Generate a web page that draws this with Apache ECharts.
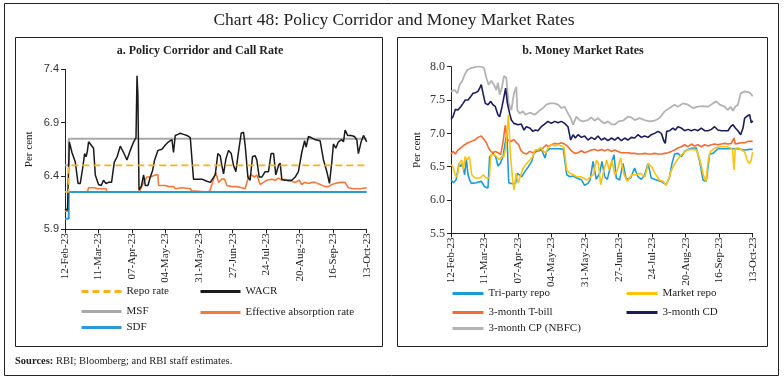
<!DOCTYPE html>
<html>
<head>
<meta charset="utf-8">
<script src="https://cdn.jsdelivr.net/npm/echarts@6/dist/echarts.min.js"></script>
<style>
html,body{margin:0;padding:0;background:#fff;}
#c{width:784px;height:381px;}
</style>
</head>
<body>
<div id="c"></div>
<script>
// ---- tick labels (x axis: every 27 days from 12-Feb-23) ----
const xTickLabels = ['12-Feb-23','11-Mar-23','07-Apr-23','04-May-23','31-May-23','27-Jun-23','24-Jul-23','20-Aug-23','16-Sep-23','13-Oct-23'];

// ---- Panel a: policy corridor (day offset from 12-Feb-23, per cent) ----
const policyDays = [0, 3, 243];
const repoRate = [6.25, 6.50, 6.50];
const msfRate  = [6.50, 6.75, 6.75];
const sdfRate  = [6.00, 6.25, 6.25];

const wacr = [[0,6.09],[2,6.08],[3.5,6.72],[5.6,6.62],[8.3,6.53],[10.5,6.33],[12.3,6.33],[14.2,6.47],[15.8,6.61],[17,6.58],[18,6.63],[19,6.72],[23,6.66],[24.4,6.41],[27,6.32],[29.2,6.31],[31,6.36],[33,6.33],[35.1,6.34],[37.5,6.34],[39.7,6.53],[42,6.58],[44.5,6.68],[47.2,6.62],[49.9,6.55],[52.6,6.64],[55.3,6.72],[57.2,6.76],[58,7.34],[58.7,7.16],[59.6,6.27],[61.4,6.30],[63.3,6.41],[64.7,6.31],[66.8,6.31],[68.7,6.39],[70.5,6.45],[72.2,6.55],[74.9,6.64],[78.1,6.65],[80.8,6.69],[83.4,6.72],[86.1,6.74],[87.4,6.62],[88.8,6.78],[91,6.79],[92.8,6.80],[95.5,6.79],[98.2,6.78],[100.9,6.76],[103.5,6.37],[106.2,6.37],[110.3,6.37],[114.3,6.35],[117,6.34],[121,6.41],[123.1,6.61],[125,6.59],[126.3,6.50],[127.7,6.42],[129.6,6.56],[131.7,6.64],[133.9,6.61],[135.7,6.50],[137.6,6.44],[139.8,6.63],[141.9,6.80],[143.8,6.81],[145.1,6.69],[147.3,6.39],[149.1,6.36],[151,6.58],[153.2,6.59],[154.5,6.55],[156.4,6.39],[158.5,6.39],[161.2,6.44],[163.9,6.44],[166,6.61],[168,6.61],[169.8,6.41],[172,6.50],[173.3,6.52],[174.6,6.37],[176.8,6.36],[180,6.36],[182.7,6.36],[185.4,6.39],[188,6.44],[190.7,6.62],[193,6.73],[194.2,6.67],[196.1,6.77],[198.2,6.76],[201.5,6.74],[205.5,6.73],[208.2,6.55],[210.9,6.44],[213,6.33],[214.9,6.53],[216.2,6.70],[218.1,6.66],[220.2,6.72],[222.9,6.74],[224.3,6.72],[225.6,6.83],[227.7,6.78],[230.4,6.78],[233.1,6.77],[235,6.74],[236.3,6.61],[238.5,6.72],[240.4,6.78],[243,6.72]];

const effAbsorption = [[0,6.07],[2,6.07],[3,6.25],[18,6.25],[19,6.29],[24,6.29],[26,6.28],[33,6.28],[34,6.25],[59,6.25],[60.6,6.27],[63.3,6.34],[66,6.39],[68.7,6.39],[72.7,6.41],[74.8,6.41],[75.4,6.31],[80.8,6.31],[83.4,6.30],[87.5,6.30],[88.8,6.28],[94.2,6.29],[100.9,6.28],[102.2,6.26],[103,6.25],[115.6,6.25],[117,6.27],[119.6,6.37],[121.5,6.43],[123.7,6.34],[126.3,6.37],[128.5,6.37],[130.4,6.31],[134.4,6.30],[138.4,6.30],[142.4,6.29],[145.1,6.28],[147.8,6.39],[150,6.41],[152.6,6.39],[154.5,6.41],[157.2,6.32],[159.9,6.34],[162.6,6.36],[166.6,6.37],[169.3,6.36],[172,6.38],[174.6,6.36],[177.3,6.37],[180,6.35],[182.7,6.35],[185.4,6.34],[188.6,6.36],[190.7,6.32],[192.9,6.34],[196.1,6.33],[198.8,6.34],[201.5,6.34],[205.5,6.32],[209.5,6.30],[212.2,6.30],[214.9,6.32],[217.6,6.33],[221.6,6.34],[225.6,6.34],[228.3,6.29],[232.3,6.28],[237.7,6.28],[243,6.29]];

// ---- Panel b: money market rates ----
const triPartyRepo = [[0,6.30],[2,6.26],[4,6.30],[6.5,6.55],[7.8,6.50],[9.2,6.55],[11,6.38],[12.4,6.62],[13.7,6.38],[15,6.30],[16.4,6.25],[20.4,6.26],[24.4,6.28],[27.1,6.20],[29.8,6.18],[31.1,6.65],[33.8,6.70],[36,6.65],[37.8,6.51],[39.7,6.55],[41.9,6.65],[44,6.90],[45,7.00],[46.5,6.26],[50,6.24],[52,6.25],[53.4,6.40],[56.9,6.35],[59.6,6.43],[62.3,6.50],[65,6.58],[66.9,6.70],[69,6.75],[71.2,6.76],[73,6.75],[75.7,6.63],[77,6.73],[79.7,6.77],[83.8,6.77],[87.8,6.77],[90.5,6.76],[93.2,6.38],[95.8,6.35],[98.5,6.36],[101.2,6.33],[105.2,6.30],[107.6,6.22],[110.3,6.25],[112,6.30],[114.4,6.58],[117,6.31],[119.7,6.40],[121.6,6.58],[123.8,6.35],[125.9,6.31],[129.1,6.55],[131.3,6.68],[133.1,6.33],[135.8,6.30],[138.5,6.55],[141.2,6.31],[144.7,6.33],[147.9,6.48],[150.6,6.35],[153.3,6.31],[156,6.38],[158.7,6.55],[161.3,6.33],[165.4,6.30],[169.4,6.28],[173.4,6.23],[176.1,6.35],[178,6.55],[180.1,6.69],[182.8,6.70],[185.5,6.65],[188.2,6.73],[190.9,6.76],[194.9,6.78],[197.6,6.78],[200.3,6.58],[203,6.30],[205.6,6.28],[208.3,6.69],[211,6.70],[215,6.77],[220,6.77],[226,6.77],[231,6.77],[236.5,6.75],[240.5,6.76],[243,6.76]];

const marketRepo = [[0,6.53],[1.6,6.50],[3.2,6.38],[5,6.35],[6.7,6.55],[8.6,6.60],[9.9,6.45],[11.3,6.65],[13,6.60],[14.8,6.65],[16.7,6.38],[19.3,6.33],[23.4,6.33],[26,6.38],[28.5,6.33],[30.9,6.33],[32.2,6.68],[34.6,6.68],[36.8,6.65],[39,6.60],[40.8,6.65],[42.5,6.65],[44.3,6.80],[46.2,7.28],[48,6.65],[49.7,6.30],[50.8,6.15],[52.4,6.40],[54.2,6.25],[56.1,6.38],[58.3,6.48],[61,6.55],[63.6,6.60],[65.8,6.65],[67.7,6.75],[70.3,6.75],[72.2,6.79],[74.5,6.73],[76.5,6.71],[78.4,6.79],[81.1,6.83],[83.8,6.81],[86.5,6.83],[89.1,6.81],[91,6.79],[93.2,6.45],[95.8,6.40],[98.5,6.38],[101.2,6.35],[104,6.35],[106.6,6.33],[109.3,6.30],[112,6.34],[114.6,6.38],[117.3,6.60],[118.7,6.55],[120.5,6.23],[122.5,6.40],[125.4,6.60],[127.4,6.45],[129.6,6.60],[131.8,6.38],[134,6.45],[136.7,6.63],[139.4,6.38],[142.1,6.28],[145.5,6.38],[148.5,6.38],[152.3,6.40],[156.3,6.35],[158.9,6.55],[161.5,6.50],[164.3,6.40],[167.8,6.30],[171,6.28],[173.1,6.22],[175.7,6.33],[177.6,6.45],[180.4,6.55],[183.9,6.65],[187.1,6.70],[190.3,6.75],[194,6.76],[197.9,6.75],[200.5,6.60],[203.2,6.38],[205.3,6.28],[207.2,6.60],[209,6.73],[212.5,6.78],[217,6.80],[222,6.80],[225.3,6.78],[226.8,6.75],[227.9,6.45],[229,6.78],[232,6.78],[236.5,6.72],[238.5,6.60],[240,6.55],[241.5,6.58],[243,6.72]];

const tBill3m = [[0,6.69],[1.6,6.73],[3.5,6.69],[5.6,6.75],[8.3,6.79],[11,6.83],[13.7,6.86],[16.4,6.88],[19,6.90],[21.7,6.94],[24.4,6.96],[26.6,6.91],[28.5,6.86],[30.3,6.78],[32,6.73],[33.8,6.71],[35.7,6.73],[37.8,6.71],[40,6.68],[41.6,6.83],[43.7,7.12],[45.4,6.90],[48.6,6.88],[50.7,6.91],[52.6,6.86],[54.5,6.83],[56.1,6.75],[58,6.71],[60.7,6.69],[63.4,6.73],[66,6.71],[68.7,6.73],[71.4,6.74],[74.1,6.78],[76.8,6.83],[78.1,6.80],[80.8,6.83],[83.5,6.85],[86.2,6.84],[88.9,6.86],[91.5,6.84],[94.2,6.80],[96.9,6.74],[99.6,6.70],[102.3,6.71],[105,6.74],[107.6,6.71],[110.3,6.73],[113,6.75],[115.7,6.76],[118.4,6.74],[121.1,6.76],[123.8,6.74],[126.4,6.76],[129.1,6.73],[131.8,6.75],[134.5,6.73],[137.2,6.71],[139.9,6.71],[142.5,6.71],[145.2,6.70],[147.9,6.70],[150.6,6.69],[153.3,6.69],[156,6.70],[158.7,6.69],[161.3,6.69],[164,6.70],[166.7,6.69],[169.4,6.69],[172.1,6.70],[174.8,6.71],[177.5,6.73],[180.1,6.75],[182.8,6.78],[185.5,6.80],[188.2,6.83],[190.9,6.80],[193.6,6.84],[196.2,6.81],[198.9,6.83],[201.6,6.80],[204.3,6.83],[207,6.81],[209.7,6.83],[212.3,6.84],[215,6.83],[217.7,6.84],[220.4,6.85],[223.1,6.84],[225.8,6.85],[227.9,6.93],[229,6.84],[231.1,6.85],[233.8,6.86],[236.5,6.86],[239.2,6.88],[243,6.88]];

const cd3m = [[0,7.21],[1.6,7.25],[3.5,7.36],[5.6,7.35],[7.8,7.40],[9.7,7.45],[11.5,7.50],[13.7,7.50],[15.8,7.55],[17.7,7.60],[19.6,7.61],[21.7,7.63],[23.1,7.68],[24.4,7.73],[25.8,7.60],[27.6,7.45],[29.8,7.43],[32,7.48],[33.8,7.43],[35.7,7.40],[37.8,7.28],[39.2,7.25],[41.1,7.40],[42.7,7.55],[44,7.68],[45.4,7.45],[47.2,7.30],[48.6,7.20],[50.7,7.15],[54,7.13],[56.6,7.14],[58.8,7.05],[60.7,7.10],[63.4,7.08],[66,7.03],[67.9,7.05],[70,7.04],[72.7,7.10],[75.4,7.14],[78.1,7.18],[80.8,7.15],[83.5,7.18],[86.2,7.16],[88.9,7.18],[91.5,7.15],[94.2,7.10],[96.4,6.90],[98.3,6.98],[100.1,6.93],[102.3,6.98],[105,6.94],[107.6,6.96],[110.3,6.90],[113,6.94],[115.7,6.91],[118.4,6.96],[121.1,6.90],[123.8,6.93],[126.4,6.89],[129.1,6.93],[131.8,6.90],[134.5,6.94],[137.2,6.89],[139.9,6.93],[142.5,6.90],[145.2,6.94],[147.9,6.93],[150.6,6.98],[153.3,6.94],[156,6.96],[158.7,6.94],[161.3,6.98],[164,7.00],[166.7,7.03],[169.4,7.00],[171.6,6.88],[172.6,6.85],[173.7,7.03],[176.1,7.04],[178.8,7.08],[180.7,7.05],[182.8,7.10],[185.5,7.08],[188.2,7.04],[190.9,7.06],[193.6,7.04],[196.2,7.06],[198.9,7.04],[201.6,7.08],[204.3,7.04],[207,7.04],[209.7,7.06],[212.3,7.10],[215,7.05],[217.7,7.04],[220.4,7.04],[223.1,7.04],[225.2,7.10],[227.1,7.13],[229,7.08],[231.1,7.04],[233.3,6.98],[235.2,7.08],[236.5,7.23],[238.6,7.26],[240.5,7.28],[241.9,7.16],[243,7.19]];

const cp3mNBFC = [[0,7.63],[3,7.65],[5.1,7.60],[7,7.73],[8.9,7.78],[11,7.88],[13.1,7.95],[16.4,7.98],[20.4,8.00],[24.4,8.00],[26.6,7.98],[28.5,7.83],[30.3,7.73],[32.5,7.79],[34.6,7.73],[36.5,7.65],[37.8,7.76],[39.2,7.58],[41.1,7.70],[42.7,7.86],[44.6,7.83],[46.4,7.45],[48.6,7.35],[50.7,7.60],[52.6,7.70],[53.4,7.35],[55.3,7.30],[58,7.33],[59.9,7.28],[63.4,7.31],[67.4,7.28],[70.6,7.33],[74.1,7.38],[76.8,7.43],[79.5,7.45],[83.5,7.45],[86.2,7.43],[88.9,7.38],[91.5,7.40],[94.2,7.30],[96.4,7.23],[98.3,7.13],[101,7.25],[103.6,7.20],[106.3,7.18],[110.3,7.20],[113,7.24],[115.7,7.19],[118.4,7.23],[121.1,7.18],[123.8,7.15],[126.4,7.18],[129.1,7.14],[131.8,7.13],[135,7.18],[138.5,7.19],[142.5,7.25],[145.2,7.24],[147.9,7.20],[151.9,7.23],[156,7.20],[160,7.18],[164,7.19],[168,7.23],[172.1,7.33],[176.1,7.38],[180.1,7.43],[182.8,7.40],[186.8,7.45],[190.9,7.43],[194.9,7.38],[198.9,7.40],[203,7.41],[207,7.40],[211,7.45],[213.7,7.48],[216.4,7.43],[220.4,7.40],[223.1,7.35],[225.2,7.40],[227.1,7.34],[229,7.40],[231.1,7.43],[233.3,7.60],[236.5,7.63],[240.5,7.61],[243,7.56]];

// ---------------------------------------------------------------
const SERIF = '"Liberation Serif","DejaVu Serif",serif';
const SANS = '"Liberation Sans","DejaVu Sans",sans-serif';
const pairs = (xs, ys) => xs.map((x, i) => [x, ys[i]]);
const fmtX = v => xTickLabels[Math.round(v / 27)] || '';

const chart = echarts.init(document.getElementById('c'), null, {renderer: 'canvas'});

function xAxisCfg(g) {
  return {
    type: 'value', gridIndex: g, min: 0, max: 243, interval: 27,
    axisLine: {lineStyle: {color: '#222', width: 1}},
    axisTick: {show: true, length: 4, lineStyle: {color: '#222'}},
    axisLabel: {rotate: 90, margin: 4, fontFamily: SERIF, fontSize: 11, color: '#222', formatter: fmtX},
    splitLine: {show: false}
  };
}
function legendCfg(name, left, top, w) {
  return {
    data: [name], left: left, top: top, itemWidth: w, itemHeight: 12, padding: 0,
    textStyle: {fontFamily: SERIF, fontSize: 11, color: '#222'},
    lineStyle: {width: 3},
    itemStyle: {opacity: 0, borderWidth: 0},
    selectedMode: false
  };
}
function line(name, data, color, width, g, extra) {
  return Object.assign({
    name: name, type: 'line', xAxisIndex: g, yAxisIndex: g, data: data,
    symbol: 'none', showSymbol: false,
    lineStyle: {color: color, width: width}, itemStyle: {color: color}
  }, extra || {});
}

const option = {
  animation: false,
  backgroundColor: '#fff',
  grid: [
    {left: 65, top: 69.3, width: 301.7, height: 160},
    {left: 451, top: 66.7, width: 301.7, height: 166.7}
  ],
  xAxis: [xAxisCfg(0), xAxisCfg(1)],
  yAxis: [
    {
      type: 'value', gridIndex: 0, min: 5.9, max: 7.4, interval: 0.5,
      axisLine: {show: true, lineStyle: {color: '#222'}},
      axisTick: {show: true, length: 4, lineStyle: {color: '#222'}},
      axisLabel: {fontFamily: SANS, fontSize: 11, color: '#333', margin: 6, formatter: v => v.toFixed(1)},
      splitLine: {show: false},
      name: 'Per cent', nameLocation: 'middle', nameGap: 30,
      nameTextStyle: {fontFamily: SERIF, fontSize: 11, color: '#222'}
    },
    {
      type: 'value', gridIndex: 1, min: 5.5, max: 8.0, interval: 0.5,
      axisLine: {show: true, lineStyle: {color: '#222'}},
      axisTick: {show: true, length: 4, lineStyle: {color: '#222'}},
      axisLabel: {fontFamily: SERIF, fontSize: 12, color: '#333', margin: 6, formatter: v => v.toFixed(1)},
      splitLine: {show: false},
      name: 'Per cent', nameLocation: 'middle', nameGap: 28,
      nameTextStyle: {fontFamily: SERIF, fontSize: 11, color: '#222'}
    }
  ],
  legend: [
    legendCfg('Repo rate', 80, 286, 40),
    legendCfg('WACR', 199, 286, 40),
    legendCfg('MSF', 80, 306, 40),
    legendCfg('Effective absorption rate', 199, 307, 40),
    legendCfg('SDF', 80, 322, 40),
    legendCfg('Tri-party repo', 451, 288, 31),
    legendCfg('Market repo', 625, 288, 31),
    legendCfg('3-month T-bill', 451, 307, 31),
    legendCfg('3-month CD', 625, 307, 31),
    legendCfg('3-month CP (NBFC)', 451, 323, 31)
  ],
  series: [
    line('MSF', pairs(policyDays, msfRate), '#A9A9A9', 2, 0, {step: 'end'}),
    line('Effective absorption rate', effAbsorption, '#F47A3C', 1.6, 0),
    line('SDF', pairs(policyDays, sdfRate), '#2A9AD5', 2, 0, {step: 'end'}),
    line('WACR', wacr, '#1A1A1A', 1.5, 0),
    line('Repo rate', pairs(policyDays, repoRate), '#F4B223', 1.8, 0, {step: 'end', lineStyle: {color: '#F4B223', width: 1.8, type: [7, 4]}}),

    line('3-month CP (NBFC)', cp3mNBFC, '#B3B3B3', 1.8, 1),
    line('3-month CD', cd3m, '#1C1C5C', 1.6, 1),
    line('3-month T-bill', tBill3m, '#F26D35', 1.6, 1),
    line('Tri-party repo', triPartyRepo, '#1E9AD6', 1.6, 1),
    line('Market repo', marketRepo, '#FFC20E', 1.6, 1)
  ],
  graphic: [
    {type: 'rect', silent: true, shape: {x: 4.5, y: 3.5, width: 774, height: 372}, style: {fill: 'none', stroke: '#222', lineWidth: 1}},
    {type: 'rect', silent: true, shape: {x: 15.5, y: 37.5, width: 367, height: 309}, style: {fill: 'none', stroke: '#222', lineWidth: 1}},
    {type: 'rect', silent: true, shape: {x: 397.5, y: 37.5, width: 370, height: 309}, style: {fill: 'none', stroke: '#222', lineWidth: 1}},
    {type: 'text', silent: true, x: 394, y: 20, style: {text: 'Chart 48: Policy Corridor and Money Market Rates', font: '17.5px ' + SERIF, fill: '#222', textAlign: 'center', textVerticalAlign: 'middle', align: 'center', verticalAlign: 'middle'}},
    {type: 'text', silent: true, x: 200, y: 51, style: {text: 'a. Policy Corridor and Call Rate', font: 'bold 12px ' + SERIF, fill: '#222', textAlign: 'center', textVerticalAlign: 'middle', align: 'center', verticalAlign: 'middle'}},
    {type: 'text', silent: true, x: 583, y: 51, style: {text: 'b. Money Market Rates', font: 'bold 12px ' + SERIF, fill: '#222', textAlign: 'center', textVerticalAlign: 'middle', align: 'center', verticalAlign: 'middle'}},
    {type: 'text', silent: true, x: 15, y: 361, style: {text: '{b|Sources:} RBI; Bloomberg; and RBI staff estimates.', font: '10.5px ' + SERIF, fill: '#222', textVerticalAlign: 'middle', verticalAlign: 'middle', rich: {b: {fontWeight: 'bold', fontFamily: SERIF, fontSize: 10.5, fill: '#222'}}}}
  ]
};
chart.setOption(option);
</script>
</body>
</html>
